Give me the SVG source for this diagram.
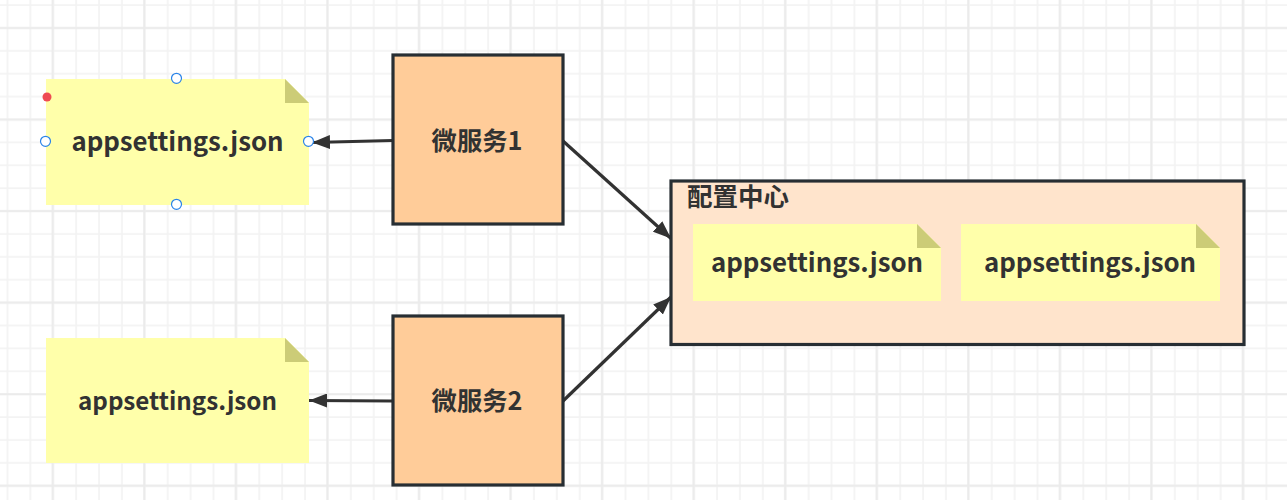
<svg xmlns="http://www.w3.org/2000/svg" width="1287" height="500" viewBox="0 0 1287 500">
<defs>
<pattern id="minor" patternUnits="userSpaceOnUse" x="-3.5" y="-6" width="22.89" height="22.89"><path d="M11 0V22.89M0 11H22.89" fill="none" stroke="#f3f3f3" stroke-width="1.700"/></pattern>
<pattern id="major" patternUnits="userSpaceOnUse" x="7.7" y="-17" width="91.55" height="91.55"><path d="M45 0V91.55M0 45H91.55" fill="none" stroke="#ebebeb" stroke-width="2"/></pattern>
<marker id="arrow" markerUnits="userSpaceOnUse" markerWidth="20" markerHeight="14" refX="18" refY="7" orient="auto"><path d="M0 0L18 7L0 14Z" fill="#323232"/></marker>
</defs>
<style>
.note{fill:#ffffaa}
.fold{fill:#cccc77}
.box{stroke:#272e33;stroke-width:3.200}
.t{font-family:"Noto Sans CJK SC","Noto Sans",sans-serif;font-weight:700;fill:#323232;text-anchor:middle}
.c{fill:none;stroke:#323232;stroke-width:3.200;marker-end:url(#arrow)}
.h{fill:#fff;stroke:#2b84e8;stroke-width:1.200}
</style>
<rect id="background" width="1287" height="500" fill="#fff"/>
<rect width="1287" height="500" fill="url(#minor)"/>
<rect width="1287" height="500" fill="url(#major)"/>
<g id="connectors">
<path class="c" d="M393 140.500L312 142.500"/>
<path class="c" d="M393 401L309 400.500"/>
<path class="c" d="M563 141L671 238.500"/>
<path class="c" d="M563 401L671 297"/>
</g>
<g id="note1">
<path class="note" d="M46 79H285L309 103V205H46Z"/><path class="fold" d="M285 79L309 103H285Z"/>
<text class="t" x="177.500" y="151" font-size="25.800">appsettings.json</text>
</g>
<g id="selection">
<circle class="h" cx="176.500" cy="78.300" r="5"/><circle class="h" cx="176.500" cy="204.300" r="5"/><circle class="h" cx="45.500" cy="141.300" r="5"/><circle class="h" cx="308.500" cy="141.300" r="5"/>
<circle cx="47" cy="97" r="4.500" fill="#ee4b52"/>
</g>
<g id="service1">
<rect class="box" x="393" y="55" width="170" height="169" fill="#ffcc99"/>
<text class="t" x="477" y="150" font-size="25.300">微服务1</text>
</g>
<g id="note2">
<path class="note" d="M46 338H285L309 362V463H46Z"/><path class="fold" d="M285 338L309 362H285Z"/>
<text class="t" x="177.500" y="410" font-size="24.200">appsettings.json</text>
</g>
<g id="service2">
<rect class="box" x="393" y="316" width="170" height="169" fill="#ffcc99"/>
<text class="t" x="477" y="410" font-size="25.300">微服务2</text>
</g>
<g id="config-center">
<rect class="box" x="671" y="181" width="573" height="163.500" fill="#ffe4cc"/>
<text class="t" x="738" y="206" font-size="25.500">配置中心</text>
</g>
<g id="note3">
<path class="note" d="M693 224H917L941 248V301H693Z"/><path class="fold" d="M917 224L941 248H917Z"/>
<text class="t" x="817" y="272" font-size="25.800">appsettings.json</text>
</g>
<g id="note4">
<path class="note" d="M961 224H1196L1220 248V301H961Z"/><path class="fold" d="M1196 224L1220 248H1196Z"/>
<text class="t" x="1090" y="272" font-size="25.800">appsettings.json</text>
</g>
</svg>
